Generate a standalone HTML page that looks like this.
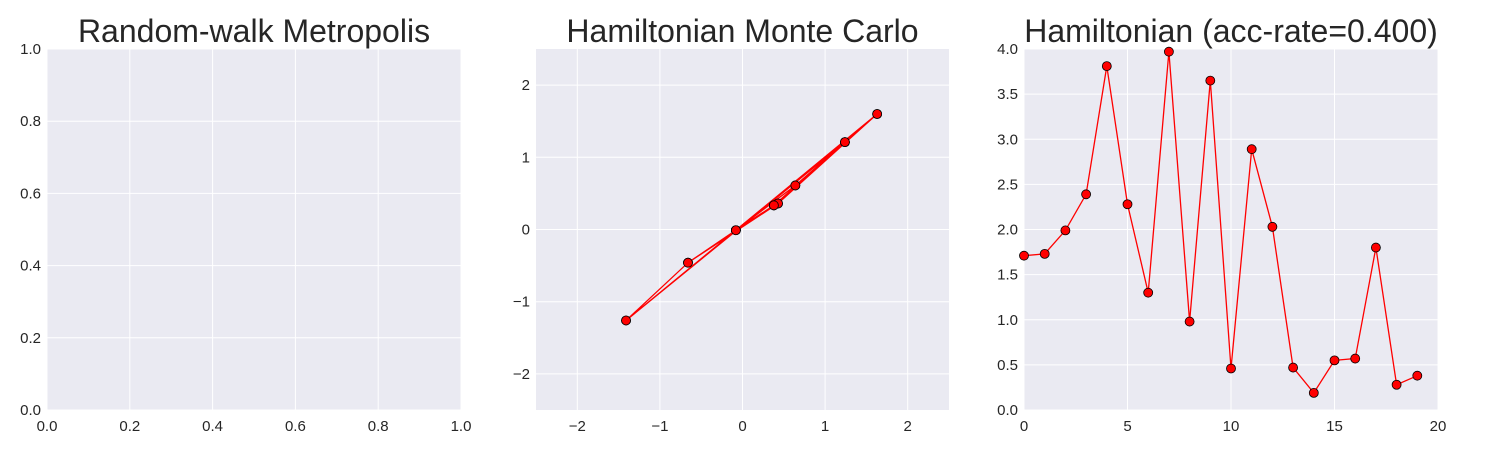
<!DOCTYPE html>
<html><head><meta charset="utf-8"><style>
body{margin:0;background:#fff;width:1500px;height:450px;overflow:hidden}
svg text{font-family:"Liberation Sans",sans-serif;fill:#262626}
</style></head><body>
<svg id="c" width="1500" height="450"></svg>
<script>
const hmcX=[-0.08,0.38,1.24,1.63,-1.41,-0.66,0.43,0.64,-0.08,-0.66,0.38,1.24,1.63,0.43,-0.08,-1.41,1.24,0.64,-0.08,0.38];
const hmcY=[-0.01,0.335,1.21,1.60,-1.26,-0.46,0.36,0.61,-0.01,-0.46,0.335,1.21,1.60,0.36,-0.01,-1.26,1.21,0.61,-0.01,0.335];
const accVals=[1.71,1.73,1.99,2.39,3.81,2.28,1.30,3.97,0.98,3.65,0.46,2.89,2.03,0.47,0.19,0.55,0.57,1.80,0.28,0.38];
const p1Ticks=["0.0","0.2","0.4","0.6","0.8","1.0"];
const p2Ticks=["−2","−1","0","1","2"];
const p3YTicks=["0.0","0.5","1.0","1.5","2.0","2.5","3.0","3.5","4.0"];
const p3XTicks=["0","5","10","15","20"];
const NS="http://www.w3.org/2000/svg",svg=document.getElementById('c');
function mk(t,a,p){const e=document.createElementNS(NS,t);for(const k in a)e.setAttribute(k,a[k]);(p||svg).appendChild(e);return e;}
function panel(name,x0,x1,xmin,xmax,xt,xl,ymin,ymax,yt,yl,title){
  const y0=49,y1=410;
  const g=mk('g',{});
  
  
  mk('rect',{x:x0,y:y0,width:x1-x0,height:y1-y0,fill:'#EAEAF2'},g);
  const sx=v=>x0+(v-xmin)/(xmax-xmin)*(x1-x0), sy=v=>y1-(v-ymin)/(ymax-ymin)*(y1-y0);
  xt.forEach((v,i)=>{mk('line',{x1:sx(v),x2:sx(v),y1:y0,y2:y1,stroke:'#fff','stroke-width':1},g);
    const t=mk('text',{x:sx(v),y:y1+21,'text-anchor':'middle','font-size':15},g);t.textContent=xl[i];
    });
  yt.forEach((v,i)=>{mk('line',{x1:x0,x2:x1,y1:sy(v),y2:sy(v),stroke:'#fff','stroke-width':1},g);
    const t=mk('text',{x:x0-6,y:sy(v)+5,'text-anchor':'end','font-size':15},g);t.textContent=yl[i];
    });
  const t=mk('text',{x:(x0+x1)/2,y:42,'text-anchor':'middle','font-size':32},g);t.textContent=title;
  
  return {g,sx,sy};
}
function series(p,xs,ys){
  const pts=xs.map((x,i)=>p.sx(x)+','+p.sy(ys[i])).join(' ');
  const l=mk('polyline',{points:pts,fill:'none',stroke:'#f00','stroke-width':1.3},p.g);
  
  xs.forEach((x,i)=>{const c=mk('circle',{cx:p.sx(x),cy:p.sy(ys[i]),r:4.5,fill:'#f00',stroke:'#000','stroke-width':0.8},p.g);
    });
}
const v1=[0,0.2,0.4,0.6,0.8,1];
panel('random-walk-panel',47,461,0,1,v1,p1Ticks,0,1,v1,p1Ticks,'Random-walk Metropolis');
const v2=[-2,-1,0,1,2];
const p2=panel('hmc-panel',536,949,-2.5,2.5,v2,p2Ticks,-2.5,2.5,v2,p2Ticks,'Hamiltonian Monte Carlo');
series(p2,hmcX,hmcY);
const p3=panel('acc-rate-panel',1024,1438,0,20,[0,5,10,15,20],p3XTicks,0,4,[0,0.5,1,1.5,2,2.5,3,3.5,4],p3YTicks,'Hamiltonian (acc-rate=0.400)');
series(p3,accVals.map((_,i)=>i),accVals);
</script></body></html>
